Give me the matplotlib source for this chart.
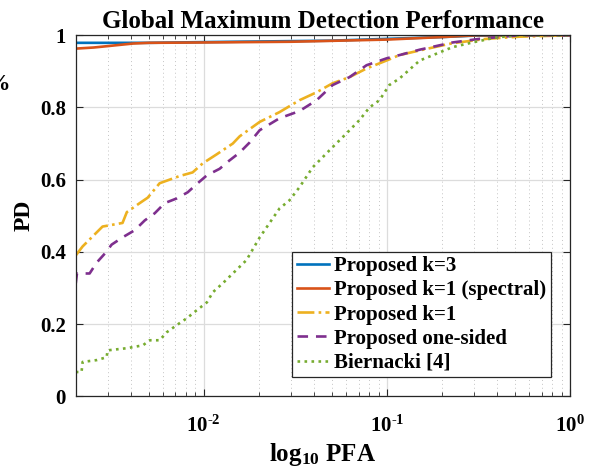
import numpy as np
import matplotlib
matplotlib.use("Agg")
import matplotlib.pyplot as plt

plt.rcParams['font.family'] = ['Liberation Serif', 'DejaVu Serif']
plt.rcParams['font.weight'] = 'bold'
plt.rcParams['mathtext.fontset'] = 'custom'
plt.rcParams['mathtext.rm'] = 'Liberation Serif:bold'
plt.rcParams['mathtext.it'] = 'Liberation Serif:italic:bold'
plt.rcParams['mathtext.bf'] = 'Liberation Serif:bold'
plt.rcParams['mathtext.default'] = 'rm'

# PFA / PD pairs
pfa_k3 = [0.002, 0.005, 0.01, 0.05, 0.1, 0.2, 0.3, 1.0]
pd_k3 = [0.979, 0.979, 0.981, 0.985, 0.99, 0.995, 0.999, 1.0]

pfa_spec = [0.002, 0.0025, 0.003, 0.0041, 0.005, 0.01, 0.03, 0.1, 0.2, 0.31, 1.0]
pd_spec = [0.963, 0.966, 0.970, 0.977, 0.979, 0.980, 0.982, 0.988, 0.995, 1.0, 1.0]

pfa_k1 = [0.002, 0.00218, 0.0028, 0.0036, 0.0038, 0.00447, 0.00494, 0.00574,
          0.00651, 0.00738, 0.00869, 0.00986, 0.01175, 0.0144, 0.0157, 0.0202,
          0.0259, 0.0333, 0.0413, 0.0505, 0.0625, 0.0774, 0.0995, 0.117,
          0.151, 0.228, 0.349, 0.528, 1.0]
pd_k1 = [0.39, 0.415, 0.47, 0.48, 0.51, 0.535, 0.55, 0.59,
         0.60, 0.61, 0.62, 0.645, 0.67, 0.70, 0.72, 0.76,
         0.787, 0.82, 0.842, 0.867, 0.884, 0.908, 0.93, 0.945,
         0.958, 0.978, 0.99, 0.996, 1.0]

pfa_one = [0.002, 0.00203, 0.00238, 0.0026, 0.00288, 0.00314, 0.0036, 0.0042,
           0.00476, 0.0054, 0.00612, 0.00712, 0.00817, 0.00926, 0.0104, 0.0122,
           0.0138, 0.0157, 0.0178, 0.0202, 0.0259, 0.0333, 0.0413, 0.0505,
           0.0625, 0.0774, 0.0995, 0.117, 0.151, 0.228, 0.32, 0.528, 1.0]
pd_one = [0.313, 0.34, 0.34, 0.37, 0.395, 0.42, 0.44, 0.46,
          0.487, 0.507, 0.535, 0.548, 0.565, 0.59, 0.612, 0.63,
          0.653, 0.675, 0.703, 0.737, 0.77, 0.79, 0.82, 0.862,
          0.884, 0.917, 0.936, 0.945, 0.96, 0.98, 0.99, 1.0, 1.0]

pfa_bier = [0.002, 0.00215, 0.00218, 0.0026, 0.00295, 0.00298, 0.0038, 0.00465,
            0.00507, 0.00574, 0.00627, 0.00712, 0.00808, 0.00914, 0.0104, 0.0112,
            0.0127, 0.0144, 0.0171, 0.0202, 0.0259, 0.0294, 0.0333, 0.0393,
            0.0505, 0.0601, 0.0708, 0.0803, 0.091, 0.103, 0.117, 0.151,
            0.228, 0.293, 0.396, 0.528, 1.0]
pd_bier = [0.067, 0.067, 0.095, 0.10, 0.108, 0.127, 0.133, 0.141,
           0.155, 0.155, 0.177, 0.197, 0.216, 0.238, 0.26, 0.288,
           0.313, 0.34, 0.377, 0.44, 0.52, 0.543, 0.579, 0.634,
           0.69, 0.728, 0.765, 0.80, 0.82, 0.862, 0.88, 0.93,
           0.967, 0.98, 0.994, 1.0, 1.0]

labels = ['Proposed k=3', 'Proposed k=1 (spectral)', 'Proposed k=1',
          'Proposed one-sided', 'Biernacki [4]']

fig = plt.figure(figsize=(5.92, 4.70), dpi=100)
ax = fig.add_axes([0.128, 0.157, 0.835, 0.768])

lw = 1.9
ax.plot(pfa_k3, pd_k3, '-', color='#0072BD', lw=lw, label=labels[0])
ax.plot(pfa_spec, pd_spec, '-', color='#D95319', lw=lw, label=labels[1])
ax.plot(pfa_k1, pd_k1, '-.', color='#EDB120', lw=lw, label=labels[2])
ax.plot(pfa_one, pd_one, '--', color='#7E2F8E', lw=lw, label=labels[3],
        dashes=(4, 3))
ax.plot(pfa_bier, pd_bier, ':', color='#77AC30', lw=lw, label=labels[4])

ax.set_xscale('log')
ax.set_xlim(0.002, 1)
ax.set_ylim(0, 1)
ax.set_xticks([0.01, 0.1, 1])
ax.set_xticklabels([r'$10^{\text{-}2}$', r'$10^{\text{-}1}$', r'$10^{0}$'])
ax.set_yticks([0, 0.2, 0.4, 0.6, 0.8, 1])
ax.set_yticklabels(['0', '0.2', '0.4', '0.6', '0.8', '1'])

ax.grid(True, which='major', color='#dcdcdc', lw=0.9, ls='-')
ax.grid(True, which='minor', axis='x', color='#c4c4c4', lw=0.7, ls=(0, (1, 3)))
ax.set_axisbelow(True)

ax.tick_params(which='both', direction='in', top=True, right=True,
               labelsize=15, colors='#262626')
ax.tick_params(axis='y', pad=7)
ax.tick_params(axis='x', pad=14)
ax.tick_params(which='major', length=5, width=0.8)
ax.tick_params(which='minor', length=3, width=0.6)
for lab in ax.get_xticklabels() + ax.get_yticklabels():
    lab.set_color('black')
for s in ax.spines.values():
    s.set_color('#262626')
    s.set_linewidth(0.9)

ax.set_title('Global Maximum Detection Performance', fontsize=18,
             fontweight='bold', pad=5)
ax.set_xlabel(r'$\mathrm{log}_{10}$ PFA', fontsize=18, fontweight='bold',
              labelpad=3)
ax.set_ylabel('PD', fontsize=17, fontweight='bold', labelpad=4)

leg = ax.legend(loc='lower right', bbox_to_anchor=(0.9615, 0.052),
                fontsize=15, frameon=True, fancybox=False,
                handlelength=1.55, handletextpad=0.25, labelspacing=0.2,
                borderpad=0.22, borderaxespad=0.0)
leg.get_frame().set_edgecolor('#262626')
leg.get_frame().set_linewidth(0.9)
leg.get_frame().set_alpha(1)

# clipped fragment of a neighbouring label at the left edge, as in the reference
fig.text(-0.022, 0.82, '%', fontsize=17, fontweight='bold', va='center')

fig.savefig('out.png', dpi=100)
